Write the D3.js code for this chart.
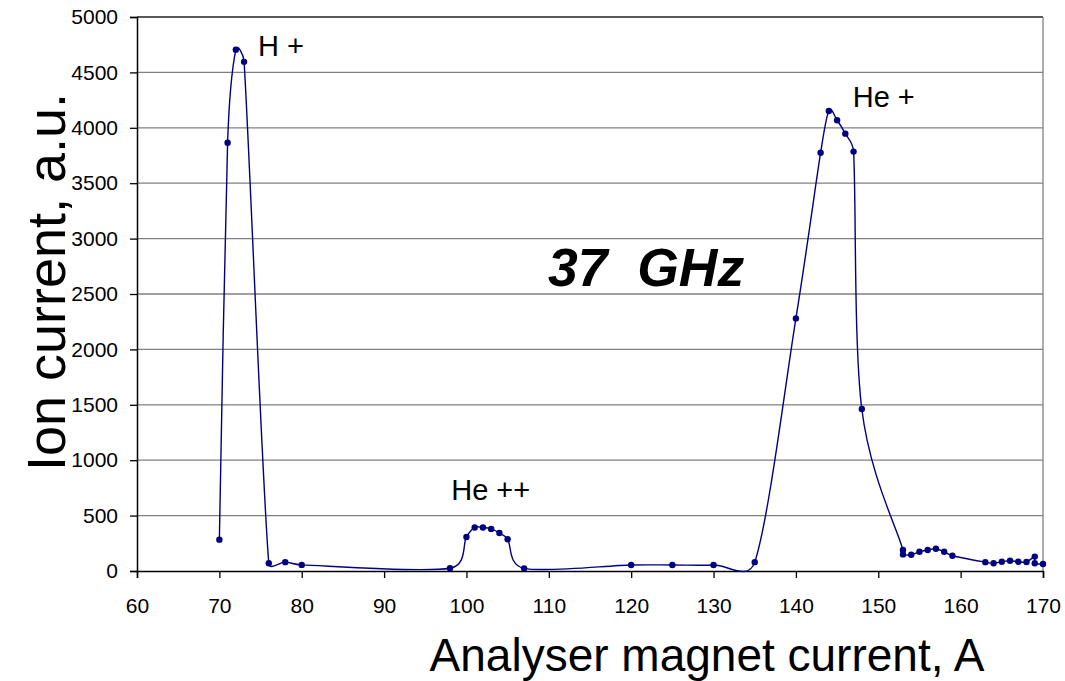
<!DOCTYPE html>
<html>
<head>
<meta charset="utf-8">
<script src="https://cdn.jsdelivr.net/npm/d3@7"></script>
<style>
    body { margin: 0; background: #fff; }
    #chart text { font-family: "Liberation Sans", Arial, sans-serif; }
</style>
</head>
<body>
<div id="chart"></div>
<script>
// analyser magnet current, A
var magnetCurrent = [70, 71, 72, 73, 76, 78, 80, 98, 100, 101, 102, 103, 104, 105, 107,
    120, 125, 130, 135, 140, 143, 144, 145, 146, 147, 148,
    153, 153, 154, 155, 156, 157, 158, 159, 163, 164, 165, 166, 167, 168, 169, 169, 170];
// ion current, a.u.
var ionCurrent = [283, 3865, 4705, 4595, 70, 80, 55, 25, 307, 393, 393, 380, 343, 286, 24,
    54, 54, 54, 80, 2280, 3775, 4152, 4068, 3947, 3785, 1462,
    190, 150, 147, 174, 190, 201, 174, 138, 80, 70, 84, 93, 84, 81, 130, 70, 63];

var xTicks = d3.range(60, 171, 10);
var yTicks = d3.range(0, 5001, 500);

var peakLabels = [
    { text: "H +", x: 74.7, y: 4650 },
    { text: "He +", x: 146.9, y: 4190 },
    { text: "He ++", x: 98.15, y: 640 }
];

var width = 1065, height = 681;
var margin = { top: 17, right: 22, bottom: 110, left: 137 };

// spreadsheet-style smoothed line: cubic bezier pieces, control arms
// limited to half of the segment length
var smoothPath = function (pts) {
    var p = d3.path();
    var dist = function (a, b) { return Math.hypot(b[0] - a[0], b[1] - a[1]); };
    p.moveTo(pts[0][0], pts[0][1]);
    for (var i = 0; i < pts.length - 1; i++) {
        var p0 = pts[Math.max(i - 1, 0)], p1 = pts[i], p2 = pts[i + 1], p3 = pts[Math.min(i + 2, pts.length - 1)];
        var d12 = dist(p1, p2), d02 = dist(p0, p2), d13 = dist(p1, p3);
        var f1 = 1 / 6, f2 = 1 / 6;
        if (d02 / 6 >= d12 / 2 && d02 > 0) { f1 = d12 / 2 / d02; }
        if (d13 / 6 >= d12 / 2 && d13 > 0) { f2 = d12 / 2 / d13; }
        p.bezierCurveTo(
            p1[0] + (p2[0] - p0[0]) * f1, p1[1] + (p2[1] - p0[1]) * f1,
            p2[0] - (p3[0] - p1[0]) * f2, p2[1] - (p3[1] - p1[1]) * f2,
            p2[0], p2[1]);
    }
    return p.toString();
};

var init = function (selector) {
    var svg = d3.select(selector).append("svg")
        .attr("width", width)
        .attr("height", height);

    var x = d3.scaleLinear().domain([60, 170]).range([margin.left, width - margin.right]);
    var y = d3.scaleLinear().domain([0, 5000]).range([571, margin.top]);

    // grid
    svg.append("g")
        .selectAll("line")
        .data(yTicks.slice(1))
        .enter()
        .append("line")
        .attr("x1", x(60)).attr("x2", x(170))
        .attr("y1", function (d) { return y(d); })
        .attr("y2", function (d) { return y(d); })
        .style("stroke", function (d) { return d === 5000 ? "#222" : "#808080"; })
        .style("stroke-width", "1.3px");

    svg.append("line")
        .attr("x1", x(170)).attr("x2", x(170))
        .attr("y1", y(5000)).attr("y2", y(0))
        .style("stroke", "#808080")
        .style("stroke-width", "1.3px");

    var yAxis = svg.append("g")
        .attr("transform", "translate(" + x(60) + ",0)")
        .call(d3.axisLeft(y).tickValues(yTicks).tickSize(7).tickPadding(12).tickFormat(d3.format("d")));
    var xAxis = svg.append("g")
        .attr("transform", "translate(0," + y(0) + ")")
        .call(d3.axisBottom(x).tickValues(xTicks).tickSize(7).tickPadding(20).tickFormat(d3.format("d")));

    [yAxis, xAxis].forEach(function (ax) {
        ax.select(".domain").style("stroke", "#000").style("stroke-width", "1.5px");
        ax.selectAll(".tick line").style("stroke", "#000").style("stroke-width", "1.3px");
        ax.selectAll(".tick text")
            .style("font-size", "21px")
            .style("fill", "#000");
    });

    var points = magnetCurrent.map(function (d, i) { return [d, ionCurrent[i]]; });
    var pixelPoints = points.map(function (d) { return [x(d[0]), y(d[1])]; });

    svg.append("path")
        .attr("d", smoothPath(pixelPoints))
        .style("fill", "none")
        .style("stroke", "#000080")
        .style("stroke-width", "1.4px");

    svg.append("g")
        .selectAll("circle")
        .data(points)
        .enter()
        .append("circle")
        .attr("cx", function (d) { return x(d[0]); })
        .attr("cy", function (d) { return y(d[1]); })
        .attr("r", 3.2)
        .style("fill", "#000080");

    svg.append("g")
        .selectAll("text")
        .data(peakLabels)
        .enter()
        .append("text")
        .attr("x", function (d) { return x(d.x); })
        .attr("y", function (d) { return y(d.y); })
        .style("font-size", "29px")
        .style("white-space", "pre")
        .text(function (d) { return d.text; });

    svg.append("text")
        .attr("x", 548)
        .attr("y", 286)
        .style("font-size", "53.5px")
        .style("font-weight", "bold")
        .style("font-style", "italic")
        .style("white-space", "pre")
        .text("37  GHz");

    svg.append("text")
        .attr("transform", "translate(65," + 282 + ") rotate(-90)")
        .attr("text-anchor", "middle")
        .style("font-size", "54px")
        .text("Ion current, a.u.");

    svg.append("text")
        .attr("x", 707)
        .attr("y", 671)
        .attr("text-anchor", "middle")
        .style("font-size", "46px")
        .text("Analyser magnet current, A");
};

init("#chart");
</script>
</body>
</html>
